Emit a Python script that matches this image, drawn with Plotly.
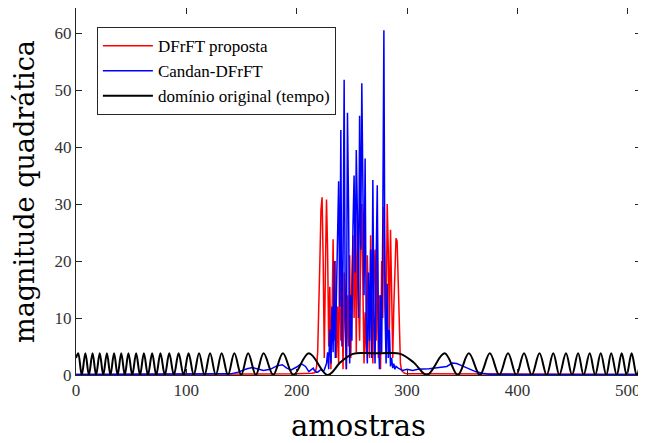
import plotly.graph_objects as go

# black curve (original domain): peaks / troughs
black_x = [0, 2, 5.2, 8.5, 11.7, 15, 18.2, 21.5, 24.7, 28, 31.2, 34.5, 37.7, 41, 44.2,
           47.5, 51, 54.5, 58, 61.5, 65.2, 69, 72.7, 76.5, 80.5, 84.5, 88.7, 93, 97.5,
           102, 106.7, 111.5, 116.5, 121.5, 126.7, 132, 137.7, 143.5, 149.7, 156, 163,
           170, 178.7, 187.5, 197, 211, 228, 240, 251, 262, 272, 283, 294, 306, 318,
           334, 346, 356, 366, 375, 383.5, 391.5, 399, 406, 413, 420, 426.5, 432.5, 438,
           444, 449.5, 455, 460, 465.5, 470.5, 475.5, 480.5, 485, 490, 494.5, 499,
           503.5, 508, 512]
black_y = [3.0, 3.8, 0, 3.8, 0, 3.8, 0, 3.8, 0, 3.8, 0, 3.8, 0, 3.8, 0,
           3.8, 0, 3.8, 0, 3.8, 0, 3.8, 0, 3.8, 0, 3.8, 0, 3.8, 0,
           3.8, 0, 3.8, 0, 3.8, 0, 3.8, 0, 3.8, 0, 3.8, 0,
           3.8, 0, 3.8, 0, 3.8, 0, 2.3, 3.7, 3.85, 3.8, 3.85, 3.7, 2.2, 0,
           3.8, 0, 3.8, 0, 3.8, 0, 3.8, 0, 3.8, 0, 3.8, 0, 3.8, 0,
           3.8, 0, 3.8, 0, 3.8, 0, 3.8, 0, 3.8, 0, 3.8, 0,
           3.8, 0, 3.0]

# DFrFT proposta (red)
red_x = [0, 150, 200, 214] + list(range(215, 301)) + [310, 400, 511]
red_y = [0.1, 0.1, 0.2, 0.3,
         0.3, 0.4, 0.5, 1.5, 4, 10, 20, 29, 31.2, 20,
         3, 18, 30.8, 22, 5, 15.5, 1, 10, 23.8, 6,
         20, 3, 12, 2, 21.5, 6, 14, 1, 18, 8,
         1, 14, 5, 21, 3, 17, 24.5, 10, 27.5, 4,
         29, 13, 6, 22, 30, 15, 2, 11, 4, 21,
         9, 3, 24.5, 12, 2, 18, 22, 6, 25, 3,
         14, 1, 20, 10, 29.5, 18, 5, 30, 22, 8,
         25.5, 15, 3, 12, 20, 24, 23.5, 15, 6, 2,
         0.8, 0.5, 0.4, 0.3, 0.2, 0.2,
         0.2, 0.1, 0.1]

# Candan-DFrFT (blue)
blue_x = [0, 140, 147, 155, 160, 165, 170, 176, 182, 187, 191, 195, 200, 204, 208,
          211, 214] + list(range(215, 291)) + [292, 296, 300, 305, 310, 320, 330,
          336, 341, 345, 350, 356, 362, 368, 375, 400, 511]
blue_y = [0.1, 0.2, 0.5, 1.1, 1.3, 1.0, 0.8, 1.0, 1.6, 1.8, 1.2, 0.9, 1.4, 2.0, 1.5,
          0.6, 1.0,
          1.2, 0.8, 0.6, 0.5, 0.5, 0.6, 0.8, 1.0, 0.8, 0.6,
          0.9, 1.5, 2, 4, 1, 8, 2, 12, 4, 20,
          3, 14, 26, 34, 12, 43, 5, 20, 51.8, 10,
          1, 46, 29.5, 2, 14, 6, 26, 35, 18, 39.5,
          28, 10, 45.5, 22, 51.2, 30, 14, 38, 8, 2,
          18, 6, 22, 3, 34.2, 10, 2, 20, 33.3, 8,
          1, 14, 4, 26, 60.5, 12, 2, 16, 3, 8,
          1.5, 3, 1.2, 2, 1.0, 1.5,
          1.2, 0.8, 1.0, 0.8, 1.0, 1.1, 1.4,
          1.5, 2.1, 2.0, 1.6, 1.1, 0.6, 0.3, 0.15, 0.1, 0.1]

x_ticks = [0, 100, 200, 300, 400, 500]
y_ticks = [0, 10, 20, 30, 40, 50, 60]

SERIF = 'Liberation Serif, Tinos, Times New Roman, serif'
TITLE_FONT = 'DejaVu Serif, serif'

fig = go.Figure()
fig.add_trace(go.Scatter(x=red_x, y=red_y, mode='lines', name='DFrFT proposta',
                         line=dict(color='#ff0000', width=1.5)))
fig.add_trace(go.Scatter(x=blue_x, y=blue_y, mode='lines', name='Candan-DFrFT',
                         line=dict(color='#0000ff', width=1.5)))
fig.add_trace(go.Scatter(x=black_x, y=black_y, mode='lines', name='domínio original (tempo)',
                         line=dict(color='#000000', width=2, shape='spline', smoothing=1)))

axis_style = dict(showline=True, linecolor='#262626', linewidth=1, mirror='ticks',
                  ticks='inside', ticklen=6, tickcolor='#262626', showgrid=False,
                  zeroline=False, automargin=False,
                  tickfont=dict(family=SERIF, size=17, color='#333333'))

# the page body adds an 8px offset, so the figure is a bit smaller than the window
fig.update_layout(
    width=638, height=435,
    margin=dict(l=68, r=5, t=0, b=68),
    paper_bgcolor='white', plot_bgcolor='white',
    xaxis=dict(range=[0, 512], tickvals=x_ticks,
               title=dict(text='amostras', font=dict(family=TITLE_FONT, size=29, color='#000'),
                          standoff=18),
               **axis_style),
    yaxis=dict(range=[0, 64.4], tickvals=y_ticks,
               title=dict(text='magnitude quadrática', font=dict(family=TITLE_FONT, size=27, color='#000'),
                          standoff=12),
               **axis_style),
    legend=dict(x=0.037, y=0.948, xanchor='left', yanchor='top',
                bordercolor='#262626', borderwidth=1, bgcolor='white', itemwidth=50,
                font=dict(family=SERIF, size=17, color='#000')),
    showlegend=True,
)

fig.write_html("out.html")
